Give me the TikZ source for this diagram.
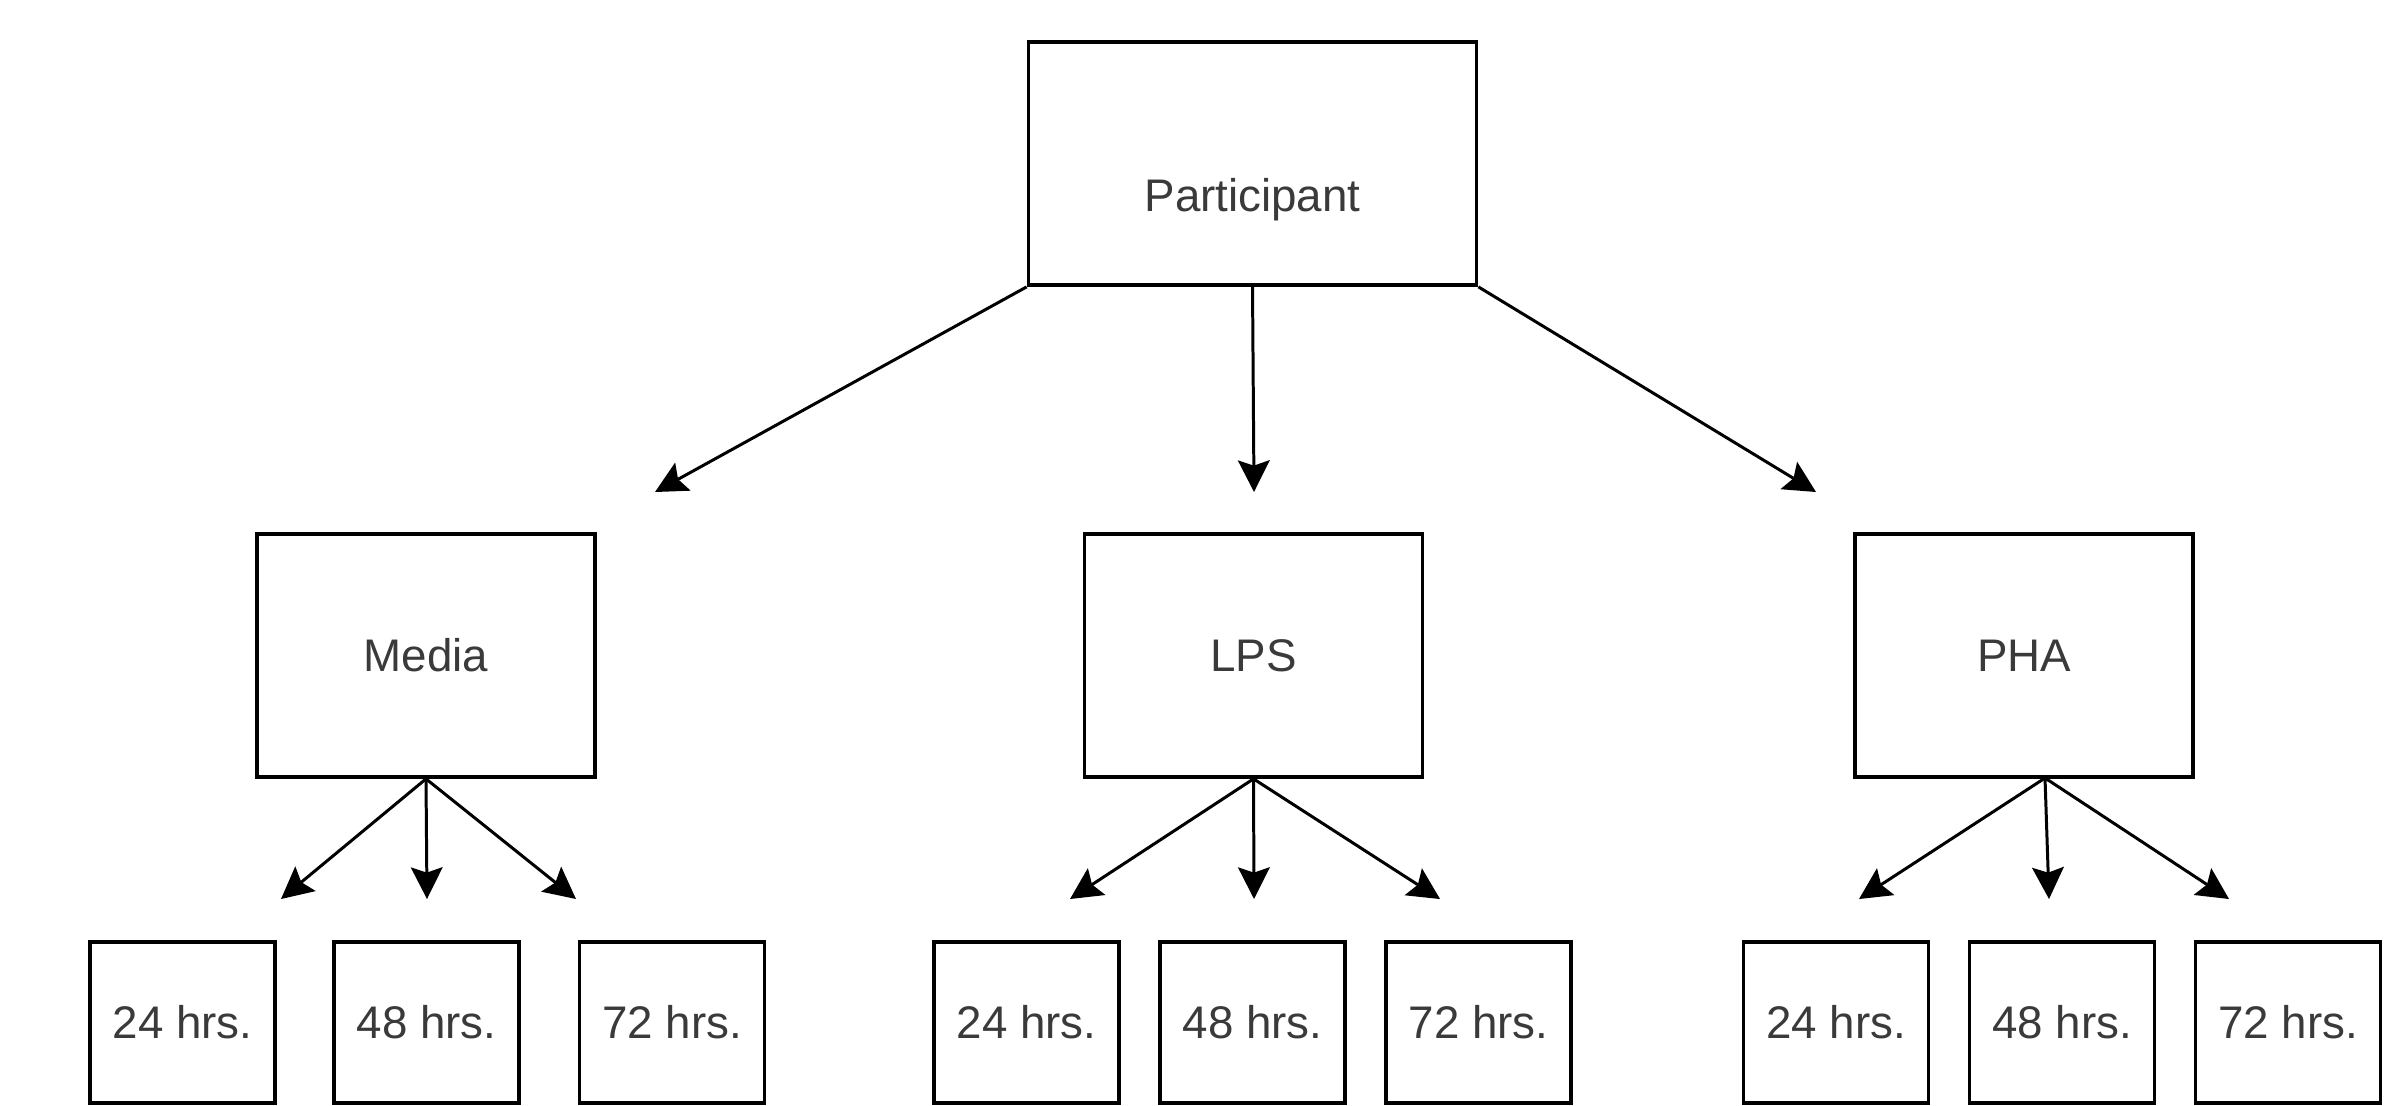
\documentclass[tikz,border=0pt]{standalone}
\usepackage{fontspec}
\setmainfont{Liberation Sans}
\usetikzlibrary{arrows.meta}
\definecolor{txt}{HTML}{3A3A3A}
\begin{document}
\begin{tikzpicture}[x=0.01cm,y=-0.01cm,
  box/.style={draw=black,line width=1.05pt,fill=white,inner sep=0pt,
    font=\fontsize{13}{15}\selectfont,text=txt},
  topbox/.style={box,minimum width=448*0.01cm,minimum height=243*0.01cm},
  midbox/.style={box,minimum width=338*0.01cm,minimum height=243*0.01cm},
  leafbox/.style={box,minimum width=185*0.01cm,minimum height=161*0.01cm},
  conn/.style={line width=0.85pt,-{Stealth[length=9pt,width=9pt,inset=1.5pt]}}]
\useasboundingbox (0,0) rectangle (2407,1105);
\node[topbox] (P) at (1252.5,163.5) {\raisebox{-0.36cm}[\height][\depth]{Participant}};
\node[midbox] (M) at (426,655.5) {Media};
\node[midbox] (L) at (1253.5,655.5) {LPS};
\node[midbox] (H) at (2024,655.5) {PHA};
\node[leafbox] (M1) at (182.5,1022.5) {24 hrs.};
\node[leafbox] (M2) at (426.5,1022.5) {48 hrs.};
\node[leafbox] (M3) at (672,1022.5) {72 hrs.};
\node[leafbox] (L1) at (1026.5,1022.5) {24 hrs.};
\node[leafbox] (L2) at (1252.5,1022.5) {48 hrs.};
\node[leafbox] (L3) at (1478.5,1022.5) {72 hrs.};
\node[leafbox] (H1) at (1836,1022.5) {24 hrs.};
\node[leafbox] (H2) at (2062,1022.5) {48 hrs.};
\node[leafbox] (H3) at (2288,1022.5) {72 hrs.};
% free ends
\coordinate (pa) at (655,492);
\coordinate (pb) at (1254,492);
\coordinate (pc) at (1816,492);
\coordinate (ma) at (281,899);
\coordinate (mb) at (427,899);
\coordinate (mc) at (576,899);
\coordinate (la) at (1070,899);
\coordinate (lb) at (1254,899);
\coordinate (lc) at (1440,899);
\coordinate (hs) at (2045,778);
\coordinate (ha) at (1859,899);
\coordinate (hb) at (2049,899);
\coordinate (hc) at (2229,899);
\draw[conn] (P.south west) -- (pa);
\draw[conn] (P.south) -- (pb);
\draw[conn] (P.south east) -- (pc);
\draw[conn] (M.south) -- (ma);
\draw[conn] (M.south) -- (mb);
\draw[conn] (M.south) -- (mc);
\draw[conn] (L.south) -- (la);
\draw[conn] (L.south) -- (lb);
\draw[conn] (L.south) -- (lc);
\draw[conn] (hs) -- (ha);
\draw[conn] (hs) -- (hb);
\draw[conn] (hs) -- (hc);
\end{tikzpicture}
\end{document}
